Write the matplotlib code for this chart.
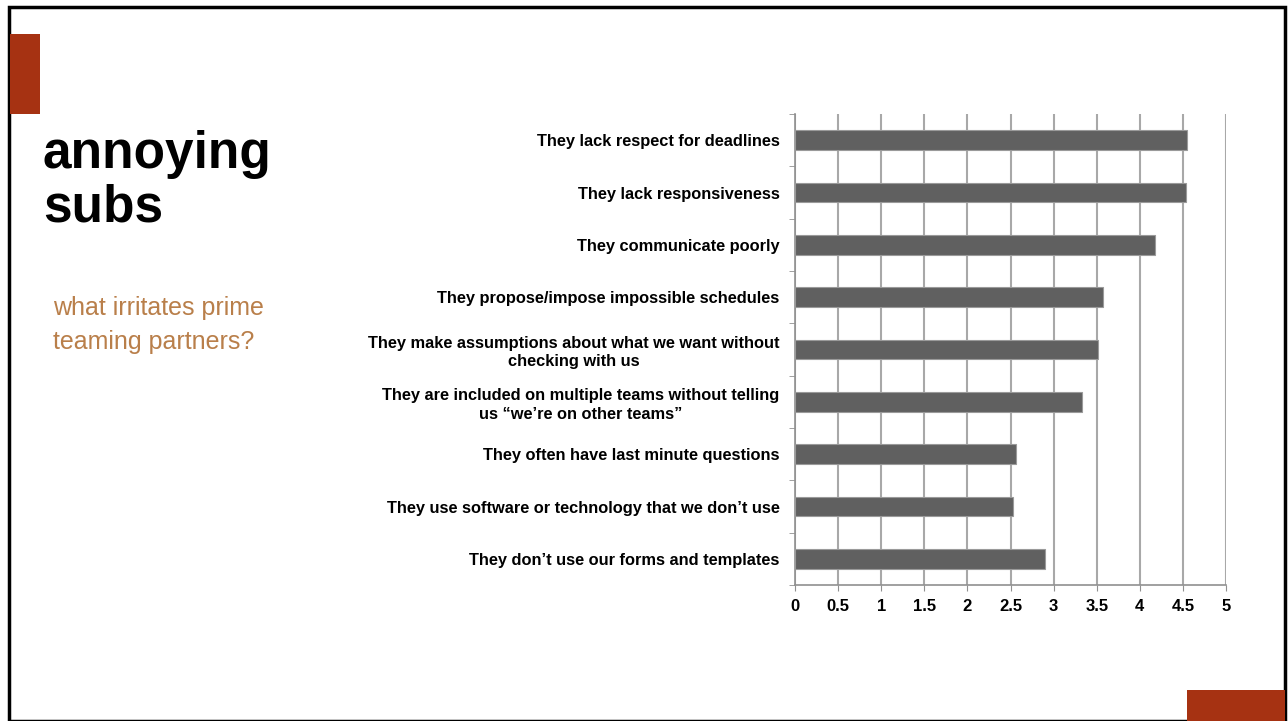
import numpy as np
import matplotlib.pyplot as plt
from matplotlib import font_manager
from matplotlib.patches import Rectangle

labels = [
    "They lack respect for deadlines",
    "They lack responsiveness",
    "They communicate poorly",
    "They propose/impose impossible schedules",
    "They make assumptions about what we want without\nchecking with us",
    "They are included on multiple teams without telling\nus \u201cwe\u2019re on other teams\u201d",
    "They often have last minute questions",
    "They use software or technology that we don\u2019t use",
    "They don\u2019t use our forms and templates",
]
scores = [4.55, 4.54, 4.18, 3.57, 3.52, 3.33, 2.56, 2.53, 2.90]
xticks = [0, 0.5, 1, 1.5, 2, 2.5, 3, 3.5, 4, 4.5, 5]

plt.rcParams['font.family'] = ['Liberation Sans', 'DejaVu Sans']

# narrow face for the big title if it is there
names = {f.name for f in font_manager.fontManager.ttflist}
if 'Liberation Sans Narrow' in names:
    title_font, title_size = 'Liberation Sans Narrow', 45
else:
    title_font, title_size = 'Liberation Sans', 37

W, H = 1288, 721
fig = plt.figure(figsize=(W / 100, H / 100), dpi=100)
fig.patch.set_facecolor('white')

# slide frame and red accents
fig.add_artist(Rectangle((9 / W, 0), (1285 - 9) / W, (H - 7) / H, transform=fig.transFigure,
                         fill=False, edgecolor='black', lw=2.5))
fig.add_artist(Rectangle((10 / W, 1 - 114 / H), 30 / W, 80 / H, transform=fig.transFigure,
                         facecolor='#A63212', edgecolor='none'))
fig.add_artist(Rectangle((1187 / W, 0), 98 / W, 31 / H, transform=fig.transFigure,
                         facecolor='#A63212', edgecolor='none'))

# baseline of a multi-line text is the last line's
fig.text(43 / W, 1 - 222 / H, "annoying\nsubs", fontsize=title_size, fontweight='bold',
         va='baseline', ha='left', linespacing=1.14, family=[title_font, 'DejaVu Sans'])
fig.text(53 / W, 1 - 349 / H, "what irritates prime\nteaming partners?", fontsize=18,
         color='#B97F4A', va='baseline', ha='left', linespacing=1.5)

ax = fig.add_axes([795 / W, 1 - 585 / H, (1226 - 795) / W, (585 - 114) / H])
y = np.arange(len(labels))
ax.barh(y, scores, height=0.38, color='#606060', edgecolor='#9a9a9a', lw=0.8, zorder=3)
ax.set_ylim(len(labels) - 0.5, -0.5)
ax.set_xlim(0, 5)
ax.set_xticks(xticks)
ax.set_xticklabels([f"{t:g}" for t in xticks], fontsize=12, fontweight='bold')
ax.set_yticks(y)
ax.set_yticklabels(labels, fontsize=11.8, fontweight='bold', linespacing=1.27,
                   multialignment='center')
ax.set_yticks(np.arange(len(labels) + 1) - 0.5, minor=True)
ax.tick_params(axis='y', which='major', length=0, pad=11)
ax.tick_params(axis='y', which='minor', length=4, color='#909090', direction='out')
ax.tick_params(axis='x', length=4, color='#909090', pad=6)
ax.grid(axis='x', color='#a8a8a8', lw=1.5, zorder=0)
for s in ['top', 'right']:
    ax.spines[s].set_visible(False)
for s in ['left', 'bottom']:
    ax.spines[s].set_color('#909090')
    ax.spines[s].set_linewidth(1.2)

fig.savefig('out.png', dpi=100)
